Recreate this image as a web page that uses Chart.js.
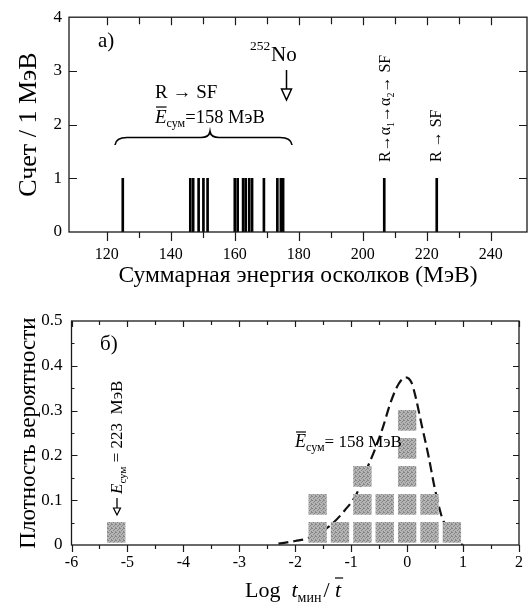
<!DOCTYPE html>
<html><head><meta charset="utf-8">
<script src="https://cdn.jsdelivr.net/npm/chart.js@4.4.1/dist/chart.umd.min.js"></script>
<style>
html,body{margin:0;padding:0;background:#fff;}
#wrap{position:relative;width:531px;height:604px;background:#fff;}
canvas{position:absolute;left:0;}
#c1{top:0;} #c2{top:300px;}
</style></head><body>
<div id="wrap"><canvas id="c1" width="531" height="300"></canvas><canvas id="c2" width="531" height="304"></canvas></div>
<script>
// ---------- data ----------
const eventEnergies = [125.0, 146.1, 147.0, 148.7, 150.2, 151.5, 160.0, 160.9, 162.6, 163.4, 164.5, 165.4, 169.1, 173.3, 174.4, 175.1, 206.7, 223.1];
const eventCounts   = [1, 1, 1, 1, 1, 1, 1, 1, 1, 1, 1, 1, 1, 1, 1, 1, 1, 1];
const energyTicks = [120, 140, 160, 180, 200, 220, 240];
const countTicks = [0, 1, 2, 3, 4];

const histBins   = [-5.2, -1.6, -1.2, -0.8, -0.4, 0, 0.4, 0.8];
const histCounts = [1, 2, 1, 3, 2, 5, 2, 1];
const densityPerEvent = 0.0625;

const curveX = [-2.30, -2.00, -1.75, -1.40, -1.11, -0.90, -0.73, -0.58, -0.44, -0.29, -0.15, -0.03, 0.08, 0.145, 0.26, 0.38, 0.495, 0.61, 0.67, 0.80, 0.90, 1.00];
const curveY = [0.003, 0.009, 0.016, 0.041, 0.078, 0.115, 0.167, 0.212, 0.260, 0.320, 0.360, 0.374, 0.362, 0.334, 0.268, 0.200, 0.126, 0.067, 0.048, 0.020, 0.006, 0.000];
const logTicks = [-6, -5, -4, -3, -2, -1, 0, 1, 2];
const densityTicks = [0, 0.1, 0.2, 0.3, 0.4, 0.5];

// ---------- helpers ----------
const SERIF = "'Liberation Serif','Times New Roman',serif";
Chart.defaults.font.family = SERIF;
Chart.defaults.color = '#000';

function rich(ctx, x, y, parts, rot) {
  ctx.save();
  ctx.translate(x, y);
  if (rot) ctx.rotate(rot);
  ctx.textAlign = 'left';
  ctx.textBaseline = 'alphabetic';
  ctx.fillStyle = '#000';
  ctx.strokeStyle = '#000';
  let cx = 0;
  parts.forEach(p => {
    if (p.arrow) {
      // left-pointing arrow drawn as a line with a head
      const len = p.arrow, ay = p.ay;
      ctx.beginPath(); ctx.lineWidth = 1.3;
      ctx.moveTo(cx + 3, ay); ctx.lineTo(cx + len, ay); ctx.stroke();
      ctx.beginPath();
      ctx.moveTo(cx, ay); ctx.lineTo(cx + 7, ay - 3.5); ctx.lineTo(cx + 7, ay + 3.5); ctx.closePath();
      ctx.lineWidth = 1.2; ctx.fillStyle = '#fff'; ctx.fill(); ctx.stroke();
      ctx.fillStyle = '#000';
      cx += len + (p.sp || 0);
      return;
    }
    ctx.font = p.f;
    const w = ctx.measureText(p.t).width;
    ctx.fillText(p.t, cx, p.dy || 0);
    if (p.over) {
      ctx.beginPath();
      ctx.lineWidth = 1.2;
      ctx.moveTo(cx + p.over[0], p.over[2]);
      ctx.lineTo(cx + w + p.over[1], p.over[2]);
      ctx.stroke();
    }
    cx += w + (p.sp || 0);
  });
  ctx.restore();
}

function framePlugin(spec) {
  return {
    id: 'frame' + spec.name,
    afterDraw(chart) {
      const ctx = chart.ctx, a = chart.chartArea;
      const xs = chart.scales.x, ys = chart.scales.y;
      ctx.save();
      ctx.strokeStyle = '#1a1a1a';
      ctx.lineWidth = 1.3;
      ctx.strokeRect(a.left, a.top, a.right - a.left, a.bottom - a.top);
      ctx.beginPath();
      const xt = (vals, lb, lt) => vals.forEach(v => {
        const p = Math.round(xs.getPixelForValue(v)) + 0.5;
        ctx.moveTo(p, a.bottom); ctx.lineTo(p, a.bottom + lb);
        ctx.moveTo(p, a.top); ctx.lineTo(p, a.top + lt);
      });
      const yt = (vals, ll, lr) => vals.forEach(v => {
        const p = Math.round(ys.getPixelForValue(v)) + 0.5;
        ctx.moveTo(a.left, p); ctx.lineTo(a.left + ll, p);
        ctx.moveTo(a.right, p); ctx.lineTo(a.right - lr, p);
      });
      xt(spec.xMajor, spec.xLen[0], spec.xLen[1]);
      xt(spec.xMinor, spec.xLen[2], spec.xLen[3]);
      yt(spec.yMajor, spec.yLen[0], spec.yLen[1]);
      yt(spec.yMinor, spec.yLen[2], spec.yLen[3]);
      ctx.lineWidth = 1.2;
      ctx.stroke();
      ctx.restore();
      if (spec.extra) spec.extra(chart);
    }
  };
}

function stepValues(from, to, step) {
  const out = [];
  for (let v = from; v <= to + 1e-9; v += step) out.push(+v.toFixed(4));
  return out;
}

// ---------- top chart ----------
const topSpec = {
  name: 'top',
  xMajor: energyTicks,
  xMinor: stepValues(130, 230, 20),
  xLen: [9, 8, 6, 7],
  yMajor: countTicks.slice(1, -1),
  yMinor: [],
  yLen: [8, 8, 0, 0],
  extra(chart) {
    const ctx = chart.ctx, xs = chart.scales.x;
    const R = "19px " + SERIF, RI = "italic 19px " + SERIF;
    rich(ctx, 98, 47, [{t: 'а)', f: "21px " + SERIF}]);
    // 252No with arrow
    rich(ctx, 250, 50, [{t: '252', f: "13.5px " + SERIF}]);
    rich(ctx, 271, 61, [{t: 'No', f: "21px " + SERIF}]);
    const ax = Math.round(xs.getPixelForValue(176.0)) + 0.5;
    ctx.save();
    ctx.strokeStyle = '#000'; ctx.lineWidth = 1.5;
    ctx.beginPath(); ctx.moveTo(ax, 70); ctx.lineTo(ax, 89); ctx.stroke();
    ctx.beginPath(); ctx.moveTo(ax - 5, 89); ctx.lineTo(ax + 5, 89); ctx.lineTo(ax, 100); ctx.closePath();
    ctx.fillStyle = '#fff'; ctx.fill(); ctx.stroke();
    ctx.restore();
    // R -> SF and mean energy
    rich(ctx, 155, 98, [{t: 'R → SF', f: R}]);
    rich(ctx, 155, 123, [
      {t: 'E', f: RI, over: [1, 0, -16]},
      {t: 'сум', f: "12px " + SERIF, dy: 4, sp: 0},
      {t: '=158 МэВ', f: "18.5px " + SERIF}
    ]);
    // brace
    const L = 115, M = 210, Rr = 292, yb = 145, ym = 137.5, ytp = 131.5;
    ctx.save();
    ctx.strokeStyle = '#000'; ctx.lineWidth = 1.6;
    ctx.beginPath();
    ctx.moveTo(L, yb);
    ctx.quadraticCurveTo(L + 1, ym, L + 12, ym);
    ctx.lineTo(M - 9, ym);
    ctx.quadraticCurveTo(M - 1, ym, M, ytp);
    ctx.quadraticCurveTo(M + 1, ym, M + 9, ym);
    ctx.lineTo(Rr - 12, ym);
    ctx.quadraticCurveTo(Rr - 1, ym, Rr, yb);
    ctx.stroke();
    ctx.restore();
    // vertical labels
    const V = "16px " + SERIF, Vs = "10px " + SERIF;
    rich(ctx, 390, 162, [
      {t: 'R', f: V}, {t: '→', f: V}, {t: 'α', f: V}, {t: '1', f: Vs, dy: 4},
      {t: '→', f: V}, {t: 'α', f: V}, {t: '2', f: Vs, dy: 4}, {t: '→ SF', f: V}
    ], -Math.PI / 2);
    rich(ctx, 441, 162, [{t: 'R → SF', f: V}], -Math.PI / 2);
  }
};

new Chart(document.getElementById('c1'), {
  type: 'bar',
  data: {
    datasets: [{
      data: eventEnergies.map((e, i) => ({x: e, y: eventCounts[i]})),
      backgroundColor: '#000',
      borderWidth: 0,
      barThickness: 2
    }]
  },
  options: {
    responsive: false, animation: false, devicePixelRatio: 1,
    layout: {padding: {top: 15, right: 4, left: 0, bottom: 0}},
    plugins: {legend: {display: false}, tooltip: {enabled: false}},
    scales: {
      x: {
        type: 'linear', min: 108.2, max: 251.3, offset: false,
        grid: {display: false, drawTicks: false}, border: {display: false},
        afterBuildTicks: s => { s.ticks = energyTicks.map(v => ({value: v})); },
        afterFit: s => { s.height = 68; },
        ticks: {font: {size: 16}, padding: 13, maxRotation: 0, autoSkip: false, color: '#000'},
        title: {display: true, text: 'Суммарная энергия осколков (МэВ)', font: {size: 23.5}, padding: {top: 0, bottom: 10}, color: '#000'}
      },
      y: {
        min: 0, max: 4,
        grid: {display: false, drawTicks: false}, border: {display: false},
        afterBuildTicks: s => { s.ticks = countTicks.map(v => ({value: v})); },
        afterFit: s => { s.width = 69; },
        ticks: {font: {size: 17}, padding: 7, color: '#000'},
        title: {display: true, text: 'Счет / 1 МэВ', font: {size: 26}, padding: {top: 14, bottom: 0}, color: '#000'}
      }
    }
  },
  plugins: [framePlugin(topSpec)]
});

// ---------- bottom chart ----------
function stipple() {
  const c = document.createElement('canvas');
  c.width = 4; c.height = 4;
  const g = c.getContext('2d');
  g.fillStyle = '#b4b4b4'; g.fillRect(0, 0, 4, 4);
  g.fillStyle = '#868686';
  [[0, 0], [2, 1], [1, 2], [3, 3], [3, 0]].forEach(([x, y]) => g.fillRect(x, y, 1, 1));
  return g.createPattern(c, 'repeat');
}

const squares = [];
histBins.forEach((b, i) => {
  for (let k = 0; k < histCounts[i]; k++) {
    const lo = k * densityPerEvent + 0.006;
    squares.push({x: b, y: [lo, lo + 0.0446]});
  }
});

const botSpec = {
  name: 'bot',
  xMajor: logTicks,
  xMinor: stepValues(-5.5, 1.5, 1),
  xLen: [7, 6, 4, 4],
  yMajor: densityTicks.slice(1, -1),
  yMinor: stepValues(0.05, 0.45, 0.1),
  yLen: [6, 6, 3, 3],
  extra(chart) {
    const ctx = chart.ctx;
    rich(ctx, 100, 50, [{t: 'б)', f: "21px " + SERIF}]);
    rich(ctx, 295, 147, [
      {t: 'E', f: "italic 18px " + SERIF, over: [1, 0, -15]},
      {t: 'сум', f: "12px " + SERIF, dy: 4},
      {t: '= 158 МэВ', f: "17px " + SERIF}
    ]);
    rich(ctx, 122, 215, [
      {arrow: 17, ay: -5, sp: 4},
      {t: 'E', f: "italic 17px " + SERIF},
      {t: 'сум', f: "11px " + SERIF, dy: 4},
      {t: ' = 223  МэВ', f: "17px " + SERIF}
    ], -Math.PI / 2);
    // x axis title with subscript and overline
    rich(ctx, 245, 297, [
      {t: 'Log  ', f: "22px " + SERIF},
      {t: 't', f: "italic 22px " + SERIF},
      {t: 'мин', f: "14px " + SERIF, dy: 5, sp: 2},
      {t: '/ ', f: "22px " + SERIF},
      {t: 't', f: "italic 22px " + SERIF, over: [0, 2, -19]}
    ]);
  }
};

new Chart(document.getElementById('c2'), {
  type: 'bar',
  data: {
    datasets: [
      {
        type: 'bar', data: squares, backgroundColor: stipple(), borderWidth: 0,
        barThickness: 17.7, grouped: false, order: 0
      },
      {
        type: 'line', data: curveX.map((x, i) => ({x: x, y: curveY[i]})),
        borderColor: '#111', borderWidth: 2.2, borderDash: [10, 5],
        pointRadius: 0, fill: false, tension: 0.4, cubicInterpolationMode: 'monotone', order: 1
      }
    ]
  },
  options: {
    responsive: false, animation: false, devicePixelRatio: 1,
    layout: {padding: {top: 21, right: 2.5, left: 0, bottom: 0}},
    plugins: {legend: {display: false}, tooltip: {enabled: false}},
    scales: {
      x: {
        type: 'linear', min: -6, max: 2, offset: false,
        grid: {display: false, drawTicks: false}, border: {display: false},
        afterBuildTicks: s => { s.ticks = logTicks.map(v => ({value: v})); },
        afterFit: s => { s.height = 59; },
        ticks: {font: {size: 16}, padding: 8, maxRotation: 0, autoSkip: false, color: '#000'}
      },
      y: {
        min: 0, max: 0.5,
        grid: {display: false, drawTicks: false}, border: {display: false},
        afterBuildTicks: s => { s.ticks = densityTicks.map(v => ({value: v})); },
        afterFit: s => { s.width = 71.5; },
        ticks: {font: {size: 17}, padding: 9, color: '#000'},
        title: {display: true, text: 'Плотность вероятности', font: {size: 23}, padding: {top: 15, bottom: 0}, color: '#000'}
      }
    }
  },
  plugins: [framePlugin(botSpec)]
});
</script>
</body></html>
